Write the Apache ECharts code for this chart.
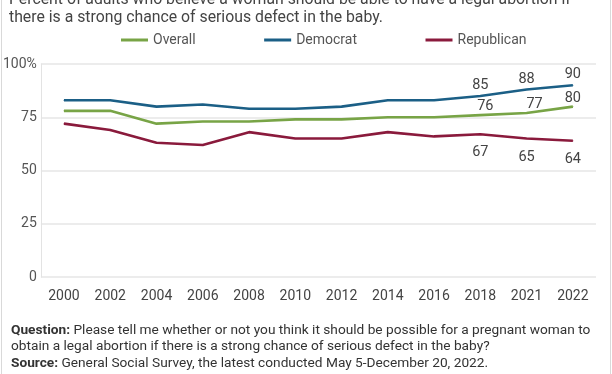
<!DOCTYPE html>
<html>
<head>
<meta charset="utf-8">
<script src="https://cdn.jsdelivr.net/npm/echarts@6/dist/echarts.min.js"></script>
<style>
html,body{margin:0;padding:0;background:#fff;}
#wrap{position:relative;width:612px;height:374px;overflow:hidden;}
#chart{width:612px;height:374px;}
#bl{position:absolute;left:1px;top:0;width:1px;height:374px;background:#d9d9d9;}
#br{position:absolute;left:610px;top:0;width:1px;height:374px;background:#d9d9d9;}
</style>
</head>
<body>
<div id="wrap"><div id="chart"></div><div id="bl"></div><div id="br"></div></div>
<script>
const years = ['2000','2002','2004','2006','2008','2010','2012','2014','2016','2018','2021','2022'];
const overall = [78, 78, 72, 73, 73, 74, 74, 75, 75, 76, 77, 80];
const democrat = [83, 83, 80, 81, 79, 79, 80, 83, 83, 85, 88, 90];
const republican = [72, 69, 63, 62, 68, 65, 65, 68, 66, 67, 65, 64];
const yTicks = [0, 25, 50, 75, 100];
const labelFrom = 9;

const FONT = 'Roboto, "Noto Sans", sans-serif';
const TXT = '#444';

function withLabels(arr, pos, dist, offsets) {
  return arr.map((v, i) => {
    if (i < labelFrom) return v;
    return {
      value: v,
      label: {
        show: true, position: pos, distance: dist,
        offset: offsets ? offsets[i - labelFrom] : [0, 0],
        color: TXT, fontSize: 14.5, fontFamily: FONT
      }
    };
  });
}

function lineSeries(name, data, color) {
  return {name, type: 'line', data, symbol: 'circle', symbolSize: 1, showSymbol: true,
    lineStyle: {color, width: 2.6}, itemStyle: {color}, emphasis: {disabled: true}};
}

const chart = echarts.init(document.getElementById('chart'), null, {renderer: 'canvas'});
chart.setOption({
  animation: false,
  backgroundColor: '#fff',
  grid: {left: 40, right: 16, top: 64, bottom: 97, containLabel: false},
  legend: {
    left: 121, top: 33, padding: 0, itemGap: 68.5, itemWidth: 27, itemHeight: 3, icon: 'rect',
    textStyle: {color: '#555', fontSize: 14, fontFamily: FONT},
    data: ['Overall', 'Democrat', 'Republican']
  },
  xAxis: {
    type: 'category', data: years, boundaryGap: true,
    axisLine: {show: false}, axisTick: {show: false},
    axisLabel: {color: TXT, fontSize: 14, fontFamily: FONT, margin: 12}
  },
  yAxis: {
    type: 'value', min: 0, max: 100, interval: 25,
    axisLine: {show: true, lineStyle: {color: '#e3e3e3', width: 1}},
    axisTick: {show: false},
    splitLine: {lineStyle: {color: '#e6e6e6', width: 1.5}},
    axisLabel: {
      color: '#555', fontSize: 14, fontFamily: FONT, margin: 4,
      formatter: v => yTicks.includes(v) ? (v === 100 ? '100%' : String(v)) : ''
    }
  },
  series: [
    Object.assign(lineSeries('Overall', withLabels(overall, 'top', 0.5, [[5,0],[8,0],[0,0]]), '#78a446'), {z: 3}),
    lineSeries('Democrat', withLabels(democrat, 'top', 2.5), '#1b5f86'),
    lineSeries('Republican', withLabels(republican, 'bottom', 10.5), '#8a1a3c')
  ],
  graphic: [
    {
      type: 'text', left: 9, top: -9,
      style: {
        text: 'Percent of adults who believe a woman should be able to have a legal abortion if\nthere is a strong chance of serious defect in the baby.',
        fontSize: 15.8, fontFamily: FONT, fill: TXT, lineHeight: 18
      }
    },
    {
      type: 'text', left: 11, top: 322,
      style: {
        text: '{b|Question:} Please tell me whether or not you think it should be possible for a pregnant woman to\nobtain a legal abortion if there is a strong chance of serious defect in the baby?\n{b|Source:} General Social Survey, the latest conducted May 5-December 20, 2022.',
        fontSize: 13.7, fontFamily: FONT, fill: '#333', lineHeight: 16.5,
        rich: {b: {fontWeight: 'bold', fontSize: 13.7, fontFamily: FONT, fill: '#333', lineHeight: 16.5}}
      }
    }
  ]
});
</script>
</body>
</html>
